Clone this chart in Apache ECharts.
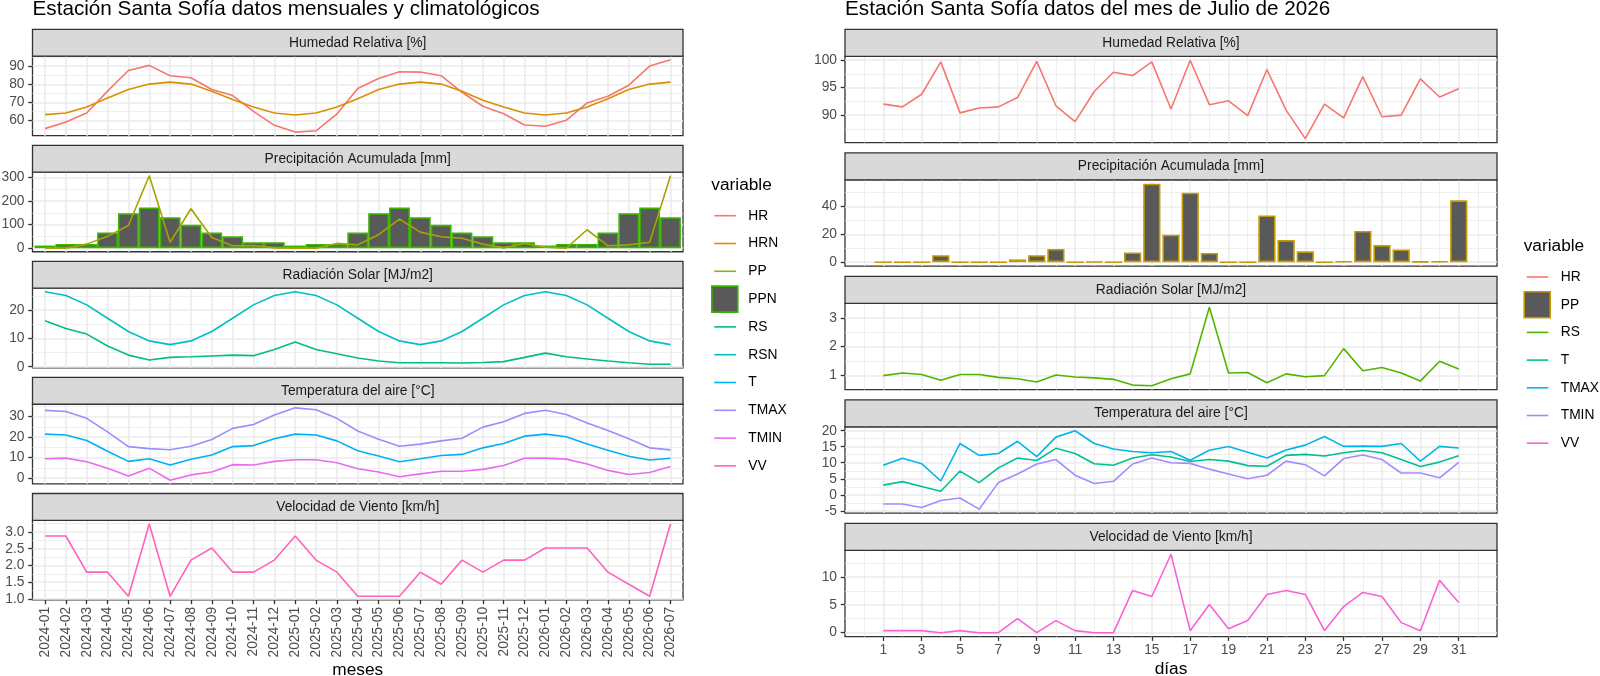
<!DOCTYPE html>
<html lang="es">
<head>
<meta charset="UTF-8">
<title>Estación Santa Sofía</title>
<script src="https://cdn.jsdelivr.net/npm/echarts@6/dist/echarts.min.js"></script>
</head>
<body style="margin:0;background:#fff">
<div id="chart" style="width:1600px;height:676px"></div>
<script>
// ---- datos mensuales (izquierda) ----
var meses = ['2024-01', '2024-02', '2024-03', '2024-04', '2024-05', '2024-06', '2024-07', '2024-08',
    '2024-09', '2024-10', '2024-11', '2024-12', '2025-01', '2025-02', '2025-03', '2025-04', '2025-05',
    '2025-06', '2025-07', '2025-08', '2025-09', '2025-10', '2025-11', '2025-12', '2026-01', '2026-02',
    '2026-03', '2026-04', '2026-05', '2026-06', '2026-07'];
var HR   = [55.6, 59.2, 64.2, 76.2, 87.6, 90.4, 84.7, 83.6, 77.1, 73.8, 65.1, 57.4, 53.7, 54.4, 63.7, 77.7,
    83.2, 86.9, 86.7, 84.7, 75.6, 67.9, 63.8, 57.6, 56.9, 60.2, 69.7, 73.4, 79.5, 90.0, 93.5];
var HRN  = [63.3, 64.2, 67.5, 72.5, 77.1, 80.1, 81.2, 80.1, 76.2, 71.6, 67.5, 64.2, 63.1, 64.2, 67.5, 72.0,
    77.1, 80.1, 81.2, 80.1, 76.2, 71.2, 67.5, 64.2, 63.1, 64.2, 67.5, 72.0, 77.1, 80.1, 81.2];
var PP   = [0, 0, 17, 50, 96, 307, 25, 167, 45, 10, 11, 1, 0, 0, 20, 14, 57, 123, 68, 48, 42, 17, 1, 20,
    4, 0, 78, 10, 14, 25, 307];
var PPN  = [11, 18, 18, 66, 148, 172, 131, 99, 66, 50, 25, 25, 11, 18, 18, 66, 148, 172, 131, 99, 66, 50,
    25, 25, 11, 18, 18, 66, 148, 172, 131];
var RS   = [16.2, 13.5, 11.5, 7.3, 4.1, 2.4, 3.3, 3.5, 3.8, 4.1, 3.9, 6.1, 8.7, 6.1, 4.6, 3.1, 2.0, 1.4,
    1.4, 1.4, 1.3, 1.5, 1.8, 3.3, 4.8, 3.5, 2.7, 2.0, 1.4, 0.9, 0.9];
var RSN  = [26.4, 25.1, 21.8, 17.1, 12.4, 9.1, 7.8, 9.1, 12.4, 17.1, 21.8, 25.1, 26.4, 25.1, 21.8, 17.1,
    12.4, 9.1, 7.8, 9.1, 12.4, 17.1, 21.8, 25.1, 26.4, 25.1, 21.8, 17.1, 12.4, 9.1, 7.8];
var T    = [21.5, 21.1, 18.4, 13.1, 8.2, 9.5, 6.4, 9.2, 11.3, 15.4, 15.9, 19.2, 21.5, 21.1, 18.2, 13.4,
    10.8, 8.0, 9.5, 11.1, 11.6, 14.8, 16.9, 20.5, 21.5, 20.2, 16.7, 13.6, 10.7, 8.9, 9.7];
var TMAX = [33.1, 32.5, 29.2, 22.6, 15.4, 14.4, 13.9, 15.6, 18.9, 24.3, 26.2, 30.8, 34.3, 33.4, 29.2, 23.0,
    19.0, 15.6, 16.6, 18.2, 19.5, 24.9, 27.5, 31.6, 33.1, 31.1, 26.9, 23.3, 19.2, 14.8, 13.8];
var TMIN = [9.5, 9.8, 8.0, 4.8, 1.1, 4.9, -1.0, 1.6, 3.0, 6.6, 6.4, 8.2, 9.0, 9.0, 7.5, 4.6, 3.0, 0.7,
    2.1, 3.4, 3.4, 4.3, 6.2, 9.7, 9.8, 9.3, 6.9, 3.8, 1.8, 2.8, 5.7];
var VV   = [2.88, 2.88, 1.8, 1.8, 1.08, 3.24, 1.08, 2.16, 2.52, 1.8, 1.8, 2.16, 2.88, 2.16, 1.8, 1.08,
    1.08, 1.08, 1.8, 1.44, 2.16, 1.8, 2.16, 2.16, 2.52, 2.52, 2.52, 1.8, 1.44, 1.08, 3.24];

// ---- datos diarios julio 2026 (derecha) ----
var dias = [1, 2, 3, 4, 5, 6, 7, 8, 9, 10, 11, 12, 13, 14, 15, 16, 17, 18, 19, 20, 21, 22, 23, 24, 25,
    26, 27, 28, 29, 30, 31];
var HR_d   = [92.0, 91.5, 93.8, 99.7, 90.4, 91.3, 91.5, 93.2, 99.8, 91.7, 88.8, 94.3, 97.8, 97.2, 99.7,
    91.1, 100, 91.9, 92.6, 89.9, 98.3, 90.9, 85.7, 92.0, 89.5, 97.0, 89.7, 90.0, 96.6, 93.3, 94.8];
var PP_d   = [0, 0, 0, 5, 0, 0, 0, 2, 5, 9.5, 0, 0.3, 0, 7, 56.4, 19.7, 50, 6.6, 0, 0, 33.6, 15.9, 7.8,
    0, 0.7, 22.5, 12.3, 9.2, 0.5, 0.7, 44.5];
var RS_d   = [0.99, 1.08, 1.03, 0.83, 1.03, 1.03, 0.93, 0.88, 0.77, 1.01, 0.94, 0.91, 0.86, 0.66, 0.64,
    0.88, 1.05, 3.37, 1.08, 1.10, 0.74, 1.05, 0.95, 0.99, 1.93, 1.16, 1.27, 1.08, 0.80, 1.49, 1.22];
var T_d    = [3.0, 4.1, 2.6, 1.1, 7.4, 3.8, 8.4, 11.5, 10.7, 14.5, 12.9, 9.7, 9.2, 11.5, 12.5, 11.8, 10.4,
    11.0, 10.5, 9.1, 8.9, 12.3, 12.6, 12.1, 13.1, 13.8, 13.1, 11.0, 8.8, 10.2, 12.2];
var TMAX_d = [9.2, 11.4, 9.7, 4.3, 16.0, 12.3, 12.9, 16.7, 11.9, 18.0, 20.0, 16.0, 14.3, 13.5, 13.1, 13.5,
    10.8, 13.9, 15.1, 13.3, 11.5, 14.0, 15.5, 18.2, 15.1, 15.2, 15.1, 16.0, 10.5, 15.1, 14.6];
var TMIN_d = [-2.9, -2.9, -4.0, -1.8, -1.0, -4.5, 3.8, 6.5, 9.6, 11.0, 6.1, 3.5, 4.2, 9.6, 11.5, 10.0,
    9.8, 8.0, 6.5, 5.0, 6.1, 10.5, 9.4, 5.9, 11.3, 12.4, 11.0, 6.8, 6.8, 5.3, 10.1];
var VV_d   = [0.36, 0.36, 0.36, 0, 0.36, 0, 0, 2.52, 0, 2.16, 0.36, 0, 0, 7.56, 6.48, 14.04, 0.36, 5.04,
    0.72, 2.16, 6.84, 7.56, 6.84, 0.36, 4.68, 7.2, 6.48, 1.8, 0.36, 9.36, 5.4];

// ---- marcas de ejes ----
var diasImpares = [1, 3, 5, 7, 9, 11, 13, 15, 17, 19, 21, 23, 25, 27, 29, 31];
var diasPares   = [0, 2, 4, 6, 8, 10, 12, 14, 16, 18, 20, 22, 24, 26, 28, 30, 32];
var ticksHR  = [60, 70, 80, 90],        menHR  = [55, 65, 75, 85, 95];
var ticksPP  = [0, 100, 200, 300],      menPP  = [50, 150, 250];
var ticksRS  = [0, 10, 20],             menRS  = [5, 15, 25];
var ticksT   = [0, 10, 20, 30],         menT   = [5, 15, 25, 35];
var ticksVV  = [1, 1.5, 2, 2.5, 3],     menVV  = [1.25, 1.75, 2.25, 2.75, 3.25];
var ticksHRd = [90, 95, 100],           menHRd = [87.5, 92.5, 97.5];
var ticksPPd = [0, 20, 40],             menPPd = [10, 30, 50];
var ticksRSd = [1, 2, 3],               menRSd = [1.5, 2.5, 3.5];
var ticksTd  = [-5, 0, 5, 10, 15, 20],  menTd  = [-2.5, 2.5, 7.5, 12.5, 17.5];
var ticksVVd = [0, 5, 10],              menVVd = [2.5, 7.5, 12.5];

var FUENTE = '"Liberation Sans", Arial, sans-serif';
var GRIS_BORDE = '#333333';
var chart = echarts.init(document.getElementById('chart'));

var grids = [], xAxes = [], yAxes = [], series = [], graficos = [];

// rango con expansion del 5% (como ggplot)
function rango(arrs) {
    var todos = [].concat.apply([], arrs);
    var lo = Math.min.apply(null, todos), hi = Math.max.apply(null, todos);
    var pad = (hi - lo) * 0.05;
    return [lo - pad, hi + pad];
}

function panel(lado, k, p) {
    var g = grids.length;
    var top = lado.top0 + k * lado.paso;
    var ultimo = (k === 4);
    grids.push({
        left: lado.left, top: top + lado.tira, width: lado.width, height: lado.alto,
        show: true, backgroundColor: '#fff', borderColor: GRIS_BORDE, borderWidth: 1.3,
        containLabel: false, outerBoundsMode: 'none'
    });
    var yr = rango(p.series.map(function (s) { return s.bar ? s.d.concat([0]) : s.d; }));
    var x = lado.x;
    // eje x principal
    xAxes.push({
        gridIndex: g, type: 'value', min: x.min, max: x.max, position: 'bottom',
        axisLine: { show: false, onZero: false },
        axisTick: { show: ultimo, length: 4.3, lineStyle: { color: GRIS_BORDE, width: 1.3 }, customValues: x.may },
        axisLabel: {
            show: ultimo, customValues: x.may, formatter: x.fmt, rotate: x.rot, margin: 7,
            color: '#4D4D4D', fontSize: 13.8, fontFamily: FUENTE
        },
        splitLine: { show: true, lineStyle: { color: '#EBEBEB', width: 1.6 } },
        name: ultimo ? x.nombre : '', nameLocation: 'middle', nameGap: x.nameGap,
        nameTextStyle: { color: '#000', fontSize: 17.3, fontFamily: FUENTE }
    });
    // eje x menor (solo rejilla)
    xAxes.push({
        gridIndex: g, type: 'value', min: x.min, max: x.max, position: 'bottom', show: x.men.length > 0,
        axisLine: { show: false, onZero: false },
        axisTick: { show: false, customValues: x.men },
        axisLabel: { show: false, customValues: x.men },
        splitLine: { show: true, lineStyle: { color: '#EBEBEB', width: 0.8 } }
    });
    yAxes.push({
        gridIndex: g, type: 'value', min: yr[0], max: yr[1], position: 'left',
        axisLine: { show: false, onZero: false },
        axisTick: { show: true, length: 4.3, lineStyle: { color: GRIS_BORDE, width: 1.3 }, customValues: p.may },
        axisLabel: {
            customValues: p.may, formatter: p.fmt || function (v) { return String(v); }, margin: 8,
            color: '#4D4D4D', fontSize: 13.8, fontFamily: FUENTE
        },
        splitLine: { show: true, lineStyle: { color: '#EBEBEB', width: 1.6 } }
    });
    yAxes.push({
        gridIndex: g, type: 'value', min: yr[0], max: yr[1], position: 'left',
        axisLine: { show: false, onZero: false },
        axisTick: { show: false, customValues: p.men },
        axisLabel: { show: false, customValues: p.men },
        splitLine: { show: true, lineStyle: { color: '#EBEBEB', width: 0.8 } }
    });
    p.series.forEach(function (s) {
        var datos = s.d.map(function (v, i) { return [x.pos[i], v]; });
        if (s.bar) {
            series.push({
                type: 'bar', name: s.n, xAxisIndex: 2 * g, yAxisIndex: 2 * g, data: datos,
                barWidth: x.barW, silent: true,
                itemStyle: { color: '#595959', borderColor: s.c, borderWidth: 1.6 }
            });
        } else {
            series.push({
                type: 'line', name: s.n, xAxisIndex: 2 * g, yAxisIndex: 2 * g, data: datos,
                showSymbol: false, symbol: 'none', silent: true,
                lineStyle: { color: s.c, width: 1.6 }, itemStyle: { color: s.c }
            });
        }
    });
    // tira del facet
    graficos.push({
        type: 'rect', z: 50, shape: { x: lado.left, y: top, width: lado.width, height: lado.tira },
        style: { fill: '#D9D9D9', stroke: GRIS_BORDE, lineWidth: 1.3 }
    });
    graficos.push({
        type: 'text', z: 51, x: lado.left + lado.width / 2, y: top + lado.tira / 2,
        style: { text: p.titulo, fill: '#1A1A1A', fontSize: 13.8, fontFamily: FUENTE, align: 'center', verticalAlign: 'middle' }
    });
}

var idxMeses = meses.map(function (m, i) { return i; });
var izq = {
    left: 32.5, width: 650.5, top0: 29.3, paso: 116.05, tira: 26.8, alto: 79.6,
    x: {
        min: -0.6, max: 30.6, may: idxMeses, men: [], pos: idxMeses, rot: 90, barW: '100%',
        fmt: function (v) { return meses[Math.round(v)]; }, nombre: 'meses', nameGap: 57
    }
};
var xr = rango([[dias[0] - 0.45, dias[dias.length - 1] + 0.45]]);
var der = {
    left: 845, width: 652, top0: 29.3, paso: 123.5, tira: 27, alto: 86.3,
    x: {
        min: xr[0], max: xr[1], may: diasImpares, men: diasPares, pos: dias, rot: 0, barW: '90%',
        fmt: function (v) { return String(v); }, nombre: 'días', nameGap: 24
    }
};

var fmt1 = function (v) { return v.toFixed(1); };
[
    { titulo: 'Humedad Relativa [%]', may: ticksHR, men: menHR,
      series: [{ n: 'HR', d: HR, c: '#F8766D' }, { n: 'HRN', d: HRN, c: '#D89000' }] },
    { titulo: 'Precipitación Acumulada [mm]', may: ticksPP, men: menPP,
      series: [{ n: 'PPN', d: PPN, c: '#39B600', bar: true }, { n: 'PP', d: PP, c: '#A3A500' }] },
    { titulo: 'Radiación Solar [MJ/m2]', may: ticksRS, men: menRS,
      series: [{ n: 'RS', d: RS, c: '#00BF7D' }, { n: 'RSN', d: RSN, c: '#00BFC4' }] },
    { titulo: 'Temperatura del aire [°C]', may: ticksT, men: menT,
      series: [{ n: 'T', d: T, c: '#00B0F6' }, { n: 'TMAX', d: TMAX, c: '#9590FF' }, { n: 'TMIN', d: TMIN, c: '#E76BF3' }] },
    { titulo: 'Velocidad de Viento [km/h]', may: ticksVV, men: menVV, fmt: fmt1,
      series: [{ n: 'VV', d: VV, c: '#FF62BC' }] }
].forEach(function (p, k) { panel(izq, k, p); });

[
    { titulo: 'Humedad Relativa [%]', may: ticksHRd, men: menHRd,
      series: [{ n: 'HR', d: HR_d, c: '#F8766D' }] },
    { titulo: 'Precipitación Acumulada [mm]', may: ticksPPd, men: menPPd,
      series: [{ n: 'PP', d: PP_d, c: '#C49A00', bar: true }] },
    { titulo: 'Radiación Solar [MJ/m2]', may: ticksRSd, men: menRSd,
      series: [{ n: 'RS', d: RS_d, c: '#53B400' }] },
    { titulo: 'Temperatura del aire [°C]', may: ticksTd, men: menTd,
      series: [{ n: 'T', d: T_d, c: '#00C094' }, { n: 'TMAX', d: TMAX_d, c: '#00B6EB' }, { n: 'TMIN', d: TMIN_d, c: '#A58AFF' }] },
    { titulo: 'Velocidad de Viento [km/h]', may: ticksVVd, men: menVVd,
      series: [{ n: 'VV', d: VV_d, c: '#FB61D7' }] }
].forEach(function (p, k) { panel(der, k, p); });

// titulos de cada grafico
graficos.push({ type: 'text', x: izq.left, y: 9, style: { text: 'Estación Santa Sofía datos mensuales y climatológicos',
    fill: '#000', fontSize: 20.7, fontFamily: FUENTE, verticalAlign: 'middle' } });
graficos.push({ type: 'text', x: der.left, y: 9, style: { text: 'Estación Santa Sofía datos del mes de Julio de 2026',
    fill: '#000', fontSize: 20.7, fontFamily: FUENTE, verticalAlign: 'middle' } });

// leyendas
function leyenda(x0, yTitulo, y0, paso, items, barra) {
    graficos.push({ type: 'text', x: x0 - 3, y: yTitulo, style: { text: 'variable', fill: '#000',
        fontSize: 17.3, fontFamily: FUENTE, verticalAlign: 'middle' } });
    items.forEach(function (it, k) {
        var y = y0 + k * paso;
        if (it[0] === barra) {
            graficos.push({ type: 'rect', shape: { x: x0 - 2.5, y: y - 13, width: 26, height: 26 },
                style: { fill: '#595959', stroke: it[1], lineWidth: 1.6 } });
        } else {
            graficos.push({ type: 'line', shape: { x1: x0, y1: y, x2: x0 + 21.6, y2: y },
                style: { stroke: it[1], lineWidth: 1.6 } });
        }
        graficos.push({ type: 'text', x: x0 + 34, y: y, style: { text: it[0], fill: '#000',
            fontSize: 13.8, fontFamily: FUENTE, verticalAlign: 'middle' } });
    });
}
leyenda(714.3, 185, 215.7, 27.8, [['HR', '#F8766D'], ['HRN', '#D89000'], ['PP', '#A3A500'], ['PPN', '#39B600'],
    ['RS', '#00BF7D'], ['RSN', '#00BFC4'], ['T', '#00B0F6'], ['TMAX', '#9590FF'], ['TMIN', '#E76BF3'], ['VV', '#FF62BC']], 'PPN');
leyenda(1526.7, 246, 277, 27.7, [['HR', '#F8766D'], ['PP', '#C49A00'], ['RS', '#53B400'], ['T', '#00C094'],
    ['TMAX', '#00B6EB'], ['TMIN', '#A58AFF'], ['VV', '#FB61D7']], 'PP');

chart.setOption({
    animation: false,
    backgroundColor: '#fff',
    textStyle: { fontFamily: FUENTE },
    grid: grids,
    xAxis: xAxes,
    yAxis: yAxes,
    series: series,
    graphic: graficos
});
</script>
</body>
</html>
